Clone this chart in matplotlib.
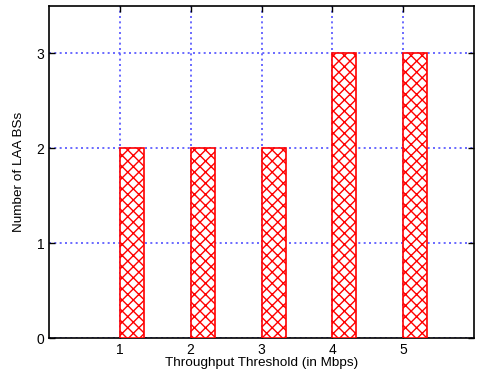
import matplotlib
matplotlib.use("Agg")
import matplotlib.pyplot as plt

thresholds = [1, 2, 3, 4, 5]
num_bs = [2, 2, 2, 3, 3]
xticks = [1, 2, 3, 4, 5]
yticks = [0, 1, 2, 3]

plt.rcParams['font.family'] = ['Liberation Sans', 'DejaVu Sans']
plt.rcParams['hatch.color'] = 'red'
plt.rcParams['hatch.linewidth'] = 1.0

fig = plt.figure(figsize=(4.86, 3.74), dpi=100)
ax = fig.add_axes([49/486, 36/374, 425/486, 332/374])

ax.bar(thresholds, num_bs, width=0.34, align='edge', facecolor='white',
       edgecolor='red', hatch='xxx', linewidth=1.2, zorder=3)

ax.set_xlim(0, 6)
ax.set_ylim(0, 3.5)
ax.set_xticks(xticks)
ax.set_yticks(yticks)
ax.grid(True, color='#5050ff', linestyle=(0, (1.2, 2)), linewidth=1.2, zorder=0)
ax.set_axisbelow(True)
ax.tick_params(direction='in', top=True, right=True, length=4, labelsize=10, width=1)
for s in ax.spines.values():
    s.set_linewidth(1.2)
ax.set_xlabel('Throughput Threshold (in Mbps)', fontsize=9.7, labelpad=0)
ax.set_ylabel('Number of LAA BSs', fontsize=9.7, labelpad=8)

fig.savefig('out.png', dpi=100)
